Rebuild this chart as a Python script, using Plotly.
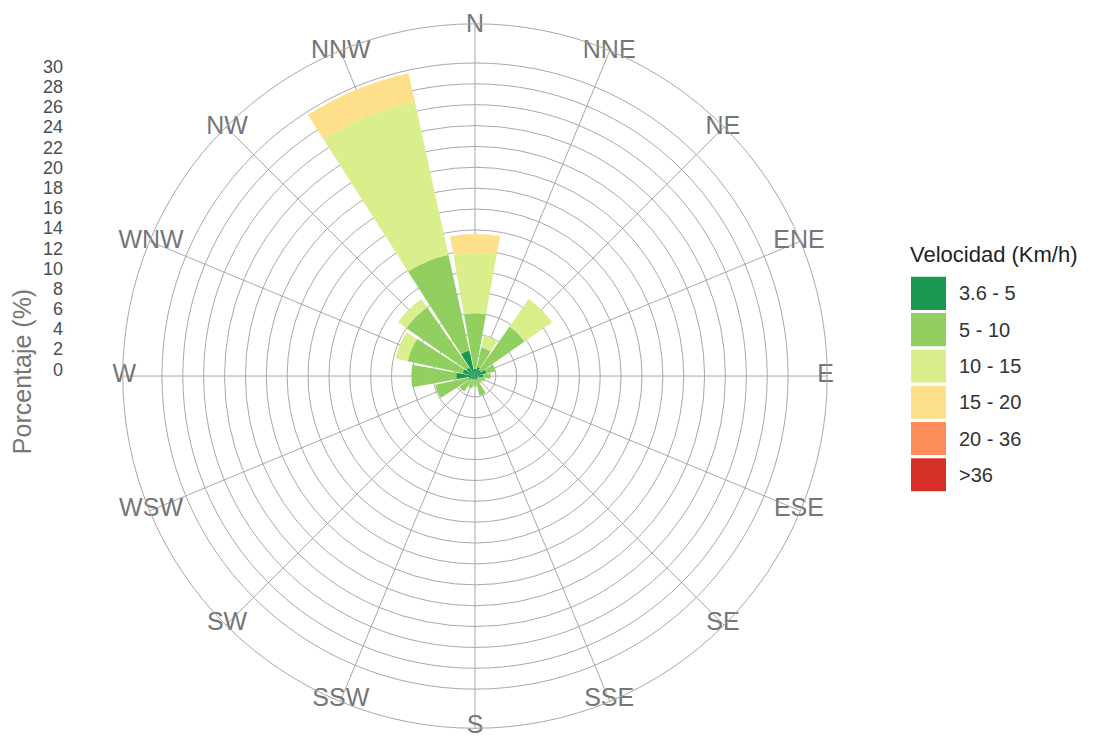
import plotly.graph_objects as go

# ---------------- data ----------------
directions = ["N", "NNE", "NE", "ENE", "E", "ESE", "SE", "SSE",
              "S", "SSW", "SW", "WSW", "W", "WNW", "NW", "NNW"]
speed_classes = ["3.6 - 5", "5 - 10", "10 - 15", "15 - 20", "20 - 36", ">36"]
class_colors = ["#1a9850", "#91cf60", "#d9ef8b", "#fee08b", "#fc8d59", "#d73027"]

pct_3_5 = [0.7, 0.9, 0.7, 1.1, 0.8, 0.3, 0.3, 0.4, 0.3, 0.3, 0.4, 0.6, 1.8, 1.2, 1.0, 2.5]
pct_5_10 = [5.3, 1.9, 5.1, 0.9, 0.7, 0.7, 0.5, 1.5, 0.7, 0.9, 1.4, 3.3, 4.3, 5.4, 7.0, 9.4]
pct_10_15 = [5.8, 1.2, 3.2, 0, 0, 0, 0, 0, 0, 0, 0, 0, 0, 1.2, 1.0, 15.0]
pct_15_20 = [1.8, 0, 0, 0, 0, 0, 0, 0, 0, 0, 0, 0, 0, 0, 0, 2.8]
pct_20_36 = [0] * 16
pct_36 = [0] * 16
series = [pct_3_5, pct_5_10, pct_10_15, pct_15_20, pct_20_36, pct_36]

radial_ticks = list(range(0, 31, 2))
R_MAX = 33.75      # outer ring (ggplot 0.45 / 0.4 of 30)
R_LABEL = 33.6
GRID = "#a8a8a8"

W, H = 1102, 740
OX, OY = 8, 8      # page body margin
def px(x):
    return (x - OX) / W
def py(y):
    return 1 - (y - OY) / H

fig = go.Figure()

for name, vals, col in zip(speed_classes, series, class_colors):
    fig.add_trace(go.Barpolar(
        r=vals, theta=directions, name=name, width=0.9,
        marker=dict(color=col, line=dict(width=0)),
        showlegend=False, hoverinfo="name+r+theta",
    ))

# direction labels sitting on the outer ring
fig.add_trace(go.Scatterpolar(
    r=[R_LABEL] * len(directions), theta=directions, mode="text",
    text=directions, textposition="middle center",
    textfont=dict(family="Liberation Sans, Arial, sans-serif", size=25, color="#767676"),
    cliponaxis=False, showlegend=False, hoverinfo="skip",
))

# dummy trace for the left percentage axis
fig.add_trace(go.Scatter(x=[0], y=[0], mode="markers", marker=dict(opacity=0),
                         showlegend=False, hoverinfo="skip", xaxis="x", yaxis="y"))

cx, cy, rad = 475, 376, 362
fig.update_layout(
    width=W, height=H,
    margin=dict(l=0, r=0, t=0, b=0),
    paper_bgcolor="white", plot_bgcolor="white",
    font=dict(family="Liberation Sans, Arial, sans-serif"),
    polar=dict(
        domain=dict(x=[px(cx - rad), px(cx + rad)], y=[py(cy + rad), py(cy - rad)]),
        bgcolor="white",
        barmode="stack",
        radialaxis=dict(range=[0, R_MAX], tickvals=radial_ticks[1:], showticklabels=False,
                        ticks="", showline=False, showgrid=True,
                        gridcolor=GRID, gridwidth=1),
        angularaxis=dict(type="category", categoryorder="array", categoryarray=directions,
                         direction="clockwise", rotation=90,
                         showticklabels=False, ticks="",
                         showgrid=True, gridcolor=GRID, gridwidth=1,
                         showline=True, linecolor=GRID, linewidth=1),
    ),
    xaxis=dict(visible=False, domain=[0, 0.02]),
    yaxis=dict(domain=[py(369), py(58)], range=[0, 30], tickvals=radial_ticks,
               anchor="free", position=px(63), side="left",
               showgrid=False, zeroline=False, showline=False, ticks="",
               tickfont=dict(size=18, color="#4d4d4d")),
)

annotations = [
    dict(text="Porcentaje (%)", x=px(22), y=py(372), xref="paper", yref="paper",
         textangle=-90, showarrow=False, font=dict(size=25, color="#767676"),
         xanchor="center", yanchor="middle"),
    dict(text="Velocidad (Km/h)", x=px(908), y=py(251), xref="paper", yref="paper",
         showarrow=False, font=dict(size=22, color="#222222"),
         xanchor="left", yanchor="middle"),
]
shapes = []
key_top, key_h, key_step = 274, 34, 37.3
for i, (name, col) in enumerate(zip(speed_classes, class_colors)):
    y0 = key_top + i * key_step
    shapes.append(dict(type="rect", xref="paper", yref="paper",
                       x0=px(911), x1=px(946), y0=py(y0 + key_h), y1=py(y0),
                       fillcolor=col, line=dict(width=0)))
    annotations.append(dict(text=name, x=px(957), y=py(y0 + key_h / 2),
                            xref="paper", yref="paper", showarrow=False,
                            font=dict(size=20, color="#333333"),
                            xanchor="left", yanchor="middle"))
fig.update_layout(annotations=annotations, shapes=shapes)

fig.write_html("out.html")
